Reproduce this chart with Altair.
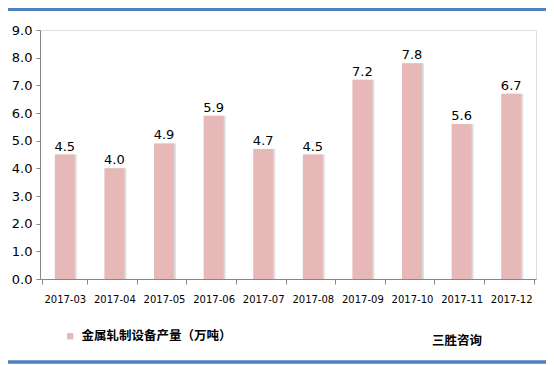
import altair as alt
import pandas as pd

months = ["2017-03", "2017-04", "2017-05", "2017-06", "2017-07",
          "2017-08", "2017-09", "2017-10", "2017-11", "2017-12"]
values = [4.5, 4.0, 4.9, 5.9, 4.7, 4.5, 7.2, 7.8, 5.6, 6.7]
series_name = "金属轧制设备产量（万吨）"
source_label = "三胜咨询"

df = pd.DataFrame({"month": months, "value": values, "series": series_name})

bar_color = "#E6B8B7"
W, H = 496, 249

x = alt.X("month:N", sort=months, title=None,
          axis=alt.Axis(labelAngle=0, labelFont="DejaVu Sans", labelFontSize=10,
                        labelColor="#000000", tickBand="extent", tickSize=5,
                        tickColor="#868686", domainColor="#868686",
                        labelPadding=10))
y = alt.Y("value:Q", title=None,
          scale=alt.Scale(domain=[0, 9], nice=False),
          axis=alt.Axis(values=[0, 1, 2, 3, 4, 5, 6, 7, 8, 9], format=".1f",
                        grid=False, labelFont="DejaVu Sans", labelFontSize=13,
                        labelColor="#000000", tickSize=4, tickColor="#868686",
                        domainColor="#868686", labelPadding=4))

base = alt.Chart(df)

shadow = base.mark_bar(size=20, xOffset=2, color="#d4d4d4", opacity=0.8).encode(x=x, y=y)

bars = base.mark_bar(size=20).encode(
    x=x, y=y,
    color=alt.Color("series:N",
                    scale=alt.Scale(domain=[series_name], range=[bar_color]),
                    legend=alt.Legend(title=None, orient="none", legendX=24, legendY=300,
                                      symbolType="square", symbolSize=40,
                                      symbolStrokeWidth=0,
                                      labelFont="Noto Sans CJK SC", labelFontSize=12.5,
                                      labelFontWeight="bold",
                                      labelColor="#000000", labelOffset=5,
                                      labelLimit=300)))

labels = base.mark_text(baseline="bottom", dy=-1, font="DejaVu Sans",
                        fontSize=13, color="#000000").encode(
    x=x, y=y, text=alt.Text("value:Q", format=".1f"))

src = alt.Chart(pd.DataFrame({"t": [source_label]})).mark_text(
    font="Noto Sans CJK SC", fontSize=12.5, fontWeight="bold", color="#000000",
    align="left", baseline="middle").encode(x=alt.value(392), y=alt.value(311), text="t:N")

top_line = alt.Chart(pd.DataFrame({"a": [0]})).mark_rule(
    color="#4F81BD", strokeWidth=3).encode(
    x=alt.value(-32), x2=alt.value(W + 12), y=alt.value(-20.5))
bottom_line = alt.Chart(pd.DataFrame({"a": [0]})).mark_rule(
    color="#4F81BD", strokeWidth=3.5).encode(
    x=alt.value(-32), x2=alt.value(W + 12), y=alt.value(332))

chart = alt.layer(shadow, bars, labels, src, top_line, bottom_line).properties(
    width=W, height=H,
    autosize=alt.AutoSizeParams(type="none"),
    padding={"left": 32, "top": 22, "right": 10, "bottom": 86},
).configure_view(stroke=None).configure(background="#ffffff")

chart.save("out.html", embed_options={"renderer": "svg", "actions": False})
